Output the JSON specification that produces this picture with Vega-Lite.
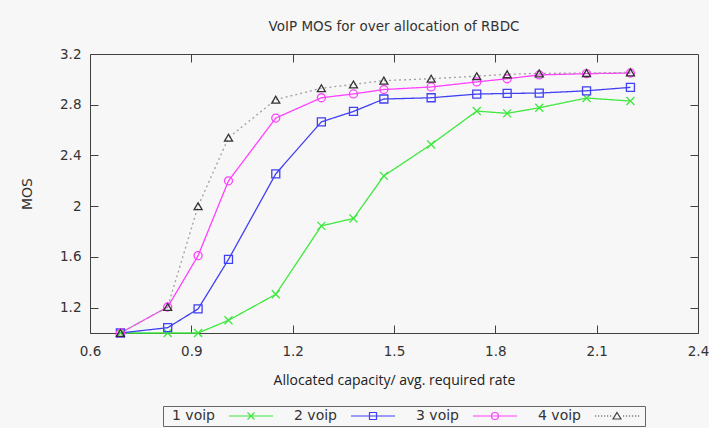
{
  "$schema": "https://vega.github.io/schema/vega-lite/v6.json",
  "width": 608,
  "height": 279,
  "autosize": "none",
  "padding": {"left": 90, "top": 54, "right": 11, "bottom": 95},
  "background": "#f7f7f7",
  "config": {
    "view": {"stroke": "#404040", "strokeWidth": 1},
    "axis": {"labelFont": "DejaVu Sans", "labelFontSize": 13.5, "labelColor": "#333333", "tickColor": "#404040", "grid": false, "domain": false}
  },
  "title": {"text": "VoIP MOS for over allocation of RBDC", "font": "DejaVu Sans", "fontSize": 13.5, "fontWeight": "normal", "color": "#333333", "anchor": "middle", "offset": 14},
  "data": {"values": [
    {"x": 0.69, "mos": 1.0, "series": "1 voip"},
    {"x": 0.83, "mos": 1.0, "series": "1 voip"},
    {"x": 0.92, "mos": 1.0, "series": "1 voip"},
    {"x": 1.01, "mos": 1.1, "series": "1 voip"},
    {"x": 1.15, "mos": 1.305, "series": "1 voip"},
    {"x": 1.285, "mos": 1.845, "series": "1 voip"},
    {"x": 1.38, "mos": 1.903, "series": "1 voip"},
    {"x": 1.47, "mos": 2.239, "series": "1 voip"},
    {"x": 1.61, "mos": 2.487, "series": "1 voip"},
    {"x": 1.745, "mos": 2.75, "series": "1 voip"},
    {"x": 1.835, "mos": 2.732, "series": "1 voip"},
    {"x": 1.93, "mos": 2.776, "series": "1 voip"},
    {"x": 2.07, "mos": 2.853, "series": "1 voip"},
    {"x": 2.2, "mos": 2.829, "series": "1 voip"},
    {"x": 0.69, "mos": 1.0, "series": "2 voip"},
    {"x": 0.83, "mos": 1.042, "series": "2 voip"},
    {"x": 0.92, "mos": 1.19, "series": "2 voip"},
    {"x": 1.01, "mos": 1.58, "series": "2 voip"},
    {"x": 1.15, "mos": 2.255, "series": "2 voip"},
    {"x": 1.285, "mos": 2.665, "series": "2 voip"},
    {"x": 1.38, "mos": 2.747, "series": "2 voip"},
    {"x": 1.47, "mos": 2.845, "series": "2 voip"},
    {"x": 1.61, "mos": 2.855, "series": "2 voip"},
    {"x": 1.745, "mos": 2.884, "series": "2 voip"},
    {"x": 1.835, "mos": 2.889, "series": "2 voip"},
    {"x": 1.93, "mos": 2.892, "series": "2 voip"},
    {"x": 2.07, "mos": 2.91, "series": "2 voip"},
    {"x": 2.2, "mos": 2.937, "series": "2 voip"},
    {"x": 0.69, "mos": 1.0, "series": "3 voip"},
    {"x": 0.83, "mos": 1.205, "series": "3 voip"},
    {"x": 0.92, "mos": 1.61, "series": "3 voip"},
    {"x": 1.01, "mos": 2.2, "series": "3 voip"},
    {"x": 1.15, "mos": 2.695, "series": "3 voip"},
    {"x": 1.285, "mos": 2.855, "series": "3 voip"},
    {"x": 1.38, "mos": 2.885, "series": "3 voip"},
    {"x": 1.47, "mos": 2.92, "series": "3 voip"},
    {"x": 1.61, "mos": 2.94, "series": "3 voip"},
    {"x": 1.745, "mos": 2.98, "series": "3 voip"},
    {"x": 1.835, "mos": 3.005, "series": "3 voip"},
    {"x": 1.93, "mos": 3.035, "series": "3 voip"},
    {"x": 2.07, "mos": 3.045, "series": "3 voip"},
    {"x": 2.2, "mos": 3.05, "series": "3 voip"},
    {"x": 0.69, "mos": 1.0, "series": "4 voip"},
    {"x": 0.83, "mos": 1.205, "series": "4 voip"},
    {"x": 0.92, "mos": 2.0, "series": "4 voip"},
    {"x": 1.01, "mos": 2.54, "series": "4 voip"},
    {"x": 1.15, "mos": 2.84, "series": "4 voip"},
    {"x": 1.285, "mos": 2.93, "series": "4 voip"},
    {"x": 1.38, "mos": 2.96, "series": "4 voip"},
    {"x": 1.47, "mos": 2.99, "series": "4 voip"},
    {"x": 1.61, "mos": 3.005, "series": "4 voip"},
    {"x": 1.745, "mos": 3.025, "series": "4 voip"},
    {"x": 1.835, "mos": 3.04, "series": "4 voip"},
    {"x": 1.93, "mos": 3.047, "series": "4 voip"},
    {"x": 2.07, "mos": 3.05, "series": "4 voip"},
    {"x": 2.2, "mos": 3.055, "series": "4 voip"}
  ]},
  "layer": [
    {
      "mark": {"type": "line", "strokeWidth": 1.3},
      "encoding": {
        "x": {"field": "x", "type": "quantitative", "scale": {"domain": [0.6, 2.4], "nice": false, "zero": false},
          "axis": {"values": [0.6, 0.9, 1.2, 1.5, 1.8, 2.1, 2.4], "format": "~g", "labelFlush": false, "labelOverlap": false, "tickSize": -8, "labelPadding": 19,
            "title": "Allocated capacity/ avg. required rate", "titleFont": "Open Sans", "titleFontSize": 14, "titleFontWeight": "normal", "titleColor": "#222222", "titlePadding": 16}},
        "y": {"field": "mos", "type": "quantitative", "scale": {"domain": [1, 3.2], "nice": false, "zero": false},
          "axis": {"values": [1.2, 1.6, 2, 2.4, 2.8, 3.2], "format": "~g", "labelFlush": false, "labelOverlap": false, "tickSize": -8, "labelPadding": 17,
            "title": "MOS", "titleFont": "DejaVu Sans", "titleFontSize": 14, "titleFontWeight": "normal", "titleColor": "#333333", "titlePadding": 25}},
        "color": {"field": "series", "type": "nominal", "scale": {"domain": ["1 voip", "2 voip", "3 voip", "4 voip"], "range": ["#3ee83e", "#4040f4", "#ff40ff", "#a0a0a0"]}, "legend": null},
        "strokeDash": {"field": "series", "type": "nominal", "scale": {"domain": ["1 voip", "2 voip", "3 voip", "4 voip"], "range": [[1, 0], [1, 0], [1, 0], [2, 3]]}, "legend": null}
      }
    },
    {
      "mark": {"type": "point", "filled": false, "size": 64, "strokeWidth": 1.3, "opacity": 1},
      "encoding": {
        "x": {"field": "x", "type": "quantitative", "axis": null},
        "y": {"field": "mos", "type": "quantitative", "axis": null},
        "stroke": {"field": "series", "type": "nominal", "scale": {"domain": ["1 voip", "2 voip", "3 voip", "4 voip"], "range": ["#3ee83e", "#4040f4", "#ff40ff", "#333333"]}, "legend": null},
        "shape": {"field": "series", "type": "nominal", "scale": {"domain": ["1 voip", "2 voip", "3 voip", "4 voip"], "range": ["M-1,-1L1,1M-1,1L1,-1", "square", "circle", "triangle-up"]}, "legend": null}
      }
    },
    {
      "mark": {"type": "point", "filled": false, "size": 4, "opacity": 0, "strokeWidth": 1.2},
      "encoding": {
        "x": {"field": "x", "type": "quantitative", "axis": {"orient": "top", "values": [0.9, 1.2, 1.5, 1.8, 2.1], "labels": false, "title": null, "tickSize": -8}},
        "y": {"field": "mos", "type": "quantitative", "axis": {"orient": "right", "values": [1.2, 1.6, 2, 2.4, 2.8], "labels": false, "title": null, "tickSize": -8}},
        "stroke": {"field": "series", "type": "nominal",
          "scale": {"range": ["#3ee83e", "#4040f4", "#ff40ff", "#444444"]},
          "legend": {"orient": "none", "legendX": 73, "legendY": 352, "direction": "horizontal", "title": null, "padding": 3,
            "strokeColor": "#666666", "labelFont": "DejaVu Sans", "labelFontSize": 14, "labelColor": "#333333", "labelOffset": -8, "columnPadding": 12,
            "symbolStrokeWidth": 1.2, "symbolSize": 4}},
        "shape": {"field": "series", "type": "nominal",
          "scale": {"range": [
            "M56,0H100M74.5,-3.5L81.5,3.5M74.5,3.5L81.5,-3.5",
            "M56,0H100M74.5,-3.5H81.5V3.5H74.5Z",
            "M56,0H100M81.5,0A3.5,3.5 0 1,1 74.5,0A3.5,3.5 0 1,1 81.5,0",
            "M56,0h1.2M59,0h1.2M62,0h1.2M65,0h1.2M68,0h1.2M71,0h1.2M84,0h1.2M87,0h1.2M90,0h1.2M93,0h1.2M96,0h1.2M99,0h1.2M78,-3.5L82,3L74,3Z"
          ]},
          "legend": {"orient": "none", "legendX": 73, "legendY": 352, "direction": "horizontal", "title": null, "padding": 3,
            "strokeColor": "#666666", "labelFont": "DejaVu Sans", "labelFontSize": 14, "labelColor": "#333333", "labelOffset": -8, "columnPadding": 12,
            "symbolStrokeWidth": 1.2, "symbolSize": 4}}
      }
    }
  ],
  "resolve": {"scale": {"shape": "independent", "stroke": "independent"}, "axis": {"x": "independent", "y": "independent"}}
}
